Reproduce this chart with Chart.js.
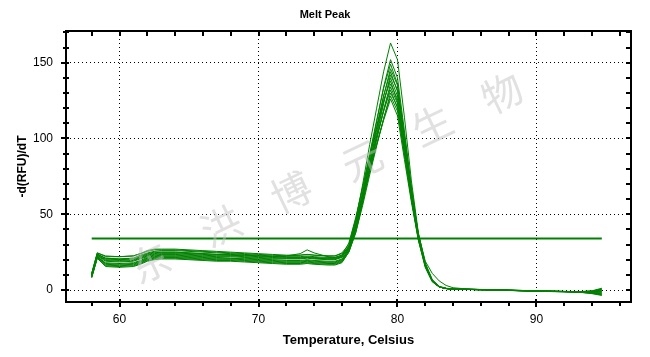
<!DOCTYPE html>
<html><head><meta charset="utf-8">
<script src="https://cdn.jsdelivr.net/npm/chart.js@4/dist/chart.umd.min.js"></script>
<style>html,body{margin:0;padding:0;background:#fff;}#wrap{width:650px;height:357px;}</style>
</head><body><div id="wrap"><canvas id="c" width="650" height="357"></canvas></div>
<script>
const temperature = [58, 58.4, 59, 60, 61, 61.5, 62, 62.5, 63, 64, 65, 66, 67, 68, 69, 70, 71, 72, 73, 73.5, 74, 75, 75.5, 76,
  76.5, 77, 77.5, 78, 78.5, 79, 79.5, 80, 80.5, 81, 81.5, 82, 82.5, 83, 83.5, 84,
  85, 86, 87, 88, 89, 90, 91, 92, 93, 94, 94.7];

const well01 = [10, 23.5, 21, 20.5, 21, 23, 24.5, 25.5, 26, 26, 25.5, 25, 24.5, 24, 23.5, 23, 22.5, 22, 22, 22.5, 22, 21.5, 21.5, 23,
  29, 46, 70, 96, 120, 144, 163, 152, 114, 72, 38, 17, 6, 2, 1, 0.6,
  0.4, 0.2, 0, -0.2, -0.4, -0.7, -0.9, -1, -1.2, -0.8, 0.8];
const well02 = [9, 22, 18, 17.5, 18, 19.5, 21.5, 22.5, 23, 23, 22.5, 22, 21.5, 21, 21, 20.5, 20, 19.5, 19.5, 20, 19.5, 19, 19, 20.5,
  27, 42, 64, 88, 111, 134, 152, 140, 105, 68, 36, 16, 6, 2, 1, 0.5,
  0.5, 0.3, 0.1, -0.1, -0.4, -0.6, -0.8, -1, -1.1, -1.9, -2.5];
const well03 = [11, 24.5, 22, 22, 22.5, 24, 25.5, 26.5, 26.5, 26.5, 26, 25.5, 25, 24.5, 24, 23.5, 23, 22.5, 23, 23.5, 23, 22.5, 22.5, 24.5,
  30, 47, 68, 90, 112, 133, 149, 136, 101, 65, 35, 16, 6, 2, 1, 0.5,
  0.6, 0.4, 0.2, 0, -0.3, -0.5, -0.7, -0.9, -1, -0.9, 0.3];
const well04 = [8.5, 21.5, 16.5, 16, 16.5, 18, 20, 21, 21.5, 21.5, 21, 20.5, 20, 20, 19.5, 19, 18.5, 18, 18, 18.5, 18, 17.5, 17.5, 19,
  26, 40, 61, 84, 106, 128, 146, 135, 102, 67, 37, 17, 6.5, 2.2, 1, 0.6,
  0.4, 0.2, 0, -0.3, -0.5, -0.8, -1, -1.1, -1.4, -2.2, -3.2];
const well05 = [10, 23, 20, 19.5, 20, 21.5, 23, 24, 24.5, 24.5, 24, 23.5, 23, 23, 22.5, 22, 21.5, 21, 21, 21.5, 21, 20.5, 20.5, 22,
  28, 44, 65, 87, 108, 128, 144, 131, 98, 64, 35, 16, 6, 2, 1, 0.5,
  0.5, 0.3, 0.1, -0.2, -0.4, -0.6, -0.8, -1, -1.2, -1.3, -0.6];
const well06 = [8, 21, 15.5, 15, 15.5, 17, 19, 20, 20.5, 20.5, 20, 19.5, 19, 19, 18.5, 18, 17.5, 17, 17, 17.5, 17, 16.5, 16.5, 18,
  25, 38, 58, 80, 102, 123, 142, 132, 100, 66, 37, 18, 7, 2.5, 1.2, 0.7,
  0.5, 0.2, 0, -0.2, -0.5, -0.7, -0.9, -1.1, -1.3, -2.4, -3.6];
const well07 = [9.5, 22.5, 19, 18.5, 19, 20.5, 22, 23, 23.5, 23.5, 23, 22.5, 22, 22, 21.5, 21, 20.5, 20.5, 20.5, 21, 20.5, 20, 20, 21.5,
  28, 43, 63, 84, 104, 124, 140, 128, 96, 63, 35, 16, 6, 2, 1, 0.5,
  0.4, 0.2, 0, -0.2, -0.4, -0.7, -0.9, -1, -1.3, -1.6, -1.8];
const well08 = [10.5, 23.5, 21, 20.5, 21, 22.5, 24, 25, 25, 25, 24.5, 24, 23.5, 23, 23, 22.5, 22, 22.5, 24, 26.5, 24.5, 22, 21.5, 23,
  31, 48, 68, 88, 107, 125, 138, 124, 92, 60, 33, 15, 5.5, 2, 1, 0.5,
  0.4, 0.2, 0, -0.2, -0.4, -0.6, -0.8, -1, -1.1, -0.5, 1.2];
const well09 = [9, 22, 17, 16.5, 17, 18.5, 20.5, 21.5, 22, 22, 21.5, 21, 20.5, 20.5, 20, 19.5, 19, 18.5, 18.5, 19, 18.5, 18, 18, 19.5,
  26, 39, 58, 79, 99, 119, 136, 126, 96, 64, 36, 17, 6.5, 2.2, 1, 0.5,
  0.4, 0.2, 0, -0.3, -0.5, -0.8, -1, -1.2, -1.4, -2, -2.8];
const well10 = [10, 23, 19.5, 19, 19.5, 21, 22.5, 23.5, 24, 24, 23.5, 23, 22.5, 22.5, 22, 21.5, 21, 21, 21, 21.5, 21, 20.5, 20.5, 22,
  27, 42, 61, 81, 100, 118, 134, 123, 93, 62, 35, 16, 6, 2, 1, 0.5,
  0.5, 0.3, 0.1, -0.1, -0.3, -0.6, -0.8, -0.9, -1.1, -1.2, -1];
const well11 = [10.5, 24, 20.5, 20, 20.5, 22, 23.5, 24.5, 25, 25, 24.5, 24, 23.5, 23.5, 23, 22.5, 22, 21.5, 21.5, 22, 21.5, 21, 21, 22.5,
  29, 45, 64, 83, 101, 118, 132, 120, 90, 60, 34, 16, 6, 2, 1, 0.5,
  0.4, 0.2, 0, -0.2, -0.4, -0.6, -0.8, -1, -1.2, -1, -0.2];
const well12 = [8.5, 21, 16, 15.5, 16, 17.5, 19.5, 20.5, 21, 21, 20.5, 20, 19.5, 19.5, 19, 18.5, 18, 17.5, 17.5, 18, 17.5, 17, 17, 18.5,
  25, 38, 56, 76, 95, 113, 130, 121, 93, 63, 37, 19, 11, 6, 3, 1.5,
  0.7, 0.3, 0, -0.2, -0.5, -0.7, -0.9, -1.1, -1.3, -1.8, -2.6];
const well13 = [9, 22, 17.5, 17, 17.5, 19, 21, 22, 22.5, 22.5, 22, 21.5, 21, 21, 20.5, 20, 19.5, 19, 19, 19.5, 19, 18.5, 18.5, 20,
  27, 41, 59, 78, 96, 113, 128, 118, 89, 60, 34, 16, 6, 2, 1, 0.5,
  0.4, 0.2, 0, -0.2, -0.5, -0.7, -0.9, -1, -1.3, -1.4, -1.4];
const well14 = [11, 24.5, 22.5, 22, 22.5, 24, 26, 27, 27, 27, 26.5, 26, 25.5, 25, 24.5, 24, 23.5, 23, 23, 23.5, 23, 22.5, 22.5, 24,
  28, 43, 61, 79, 96, 112, 126, 115, 86, 58, 33, 15, 5.5, 2, 1, 0.5,
  0.5, 0.3, 0.1, -0.1, -0.3, -0.6, -0.8, -1, -1.2, -0.7, 0.6];

const thresholdLevel = 34;
const thresholdRange = [58, 94.7];

const xTickValues = [58, 60, 62, 64, 66, 68, 70, 72, 74, 76, 78, 80, 82, 84, 86, 88, 90, 92, 94, 96];
const xLabelValues = [60, 70, 80, 90];
const yTickValues = [0, 10, 20, 30, 40, 50, 60, 70, 80, 90, 100, 110, 120, 130, 140, 150, 160, 170];
const yLabelValues = [0, 50, 100, 150];

const chartTitle = 'Melt Peak';
const xTitle = 'Temperature, Celsius';
const yTitle = '-d(RFU)/dT';
const watermarkChars = ['东', '洪', '博', '元', '生', '物'];

const wells = [well01, well02, well03, well04, well05, well06, well07, well08, well09, well10, well11, well12, well13, well14];
const GREEN = '#008000';

const datasets = wells.map(w => ({
  data: temperature.map((t, i) => ({x: t, y: w[i]})),
  borderColor: GREEN, borderWidth: 1, pointRadius: 0, tension: 0, fill: false
}));
datasets.push({
  data: thresholdRange.map(t => ({x: t, y: thresholdLevel})),
  borderColor: GREEN, borderWidth: 2, pointRadius: 0, tension: 0, fill: false
});

const watermark = {
  id: 'watermark',
  afterDatasetsDraw(chart) {
    const ctx = chart.ctx;
    const pos = [[150, 263], [221, 226], [291, 192], [362, 160], [432, 125], [502, 93]];
    ctx.save();
    ctx.font = '40px "Noto Sans CJK SC"';
    ctx.fillStyle = 'rgba(195,195,195,0.5)';
    ctx.textAlign = 'center';
    ctx.textBaseline = 'middle';
    watermarkChars.forEach((ch, i) => {
      ctx.save();
      ctx.translate(pos[i][0], pos[i][1]);
      ctx.rotate(-25.5 * Math.PI / 180);
      ctx.fillText(ch, 0, 0);
      ctx.restore();
    });
    ctx.restore();
  }
};

const frameTicks = {
  id: 'frameTicks',
  afterDraw(chart) {
    const {ctx, chartArea: a, scales: {x, y}} = chart;
    const L = Math.round(a.left), R = Math.round(a.right), T = Math.round(a.top), B = Math.round(a.bottom);
    ctx.save();
    ctx.strokeStyle = '#000';
    ctx.lineWidth = 2;
    ctx.beginPath();
    ctx.rect(L, T, R - L, B - T);
    ctx.stroke();
    ctx.beginPath();
    xTickValues.forEach(v => {
      const px = Math.round(x.getPixelForValue(v));
      const major = xLabelValues.includes(v);
      ctx.moveTo(px, B - (major ? 3 : 1)); ctx.lineTo(px, B + (major ? 5 : 4));
      ctx.moveTo(px, T); ctx.lineTo(px, T + 5);
    });
    yTickValues.forEach(v => {
      const py = Math.round(y.getPixelForValue(v));
      const major = yLabelValues.includes(v);
      ctx.moveTo(L - (major ? 5 : 3), py); ctx.lineTo(L + 3, py);
      ctx.moveTo(R - 5, py); ctx.lineTo(R, py);
    });
    ctx.stroke();
    ctx.restore();
  }
};

const FONT = 'Arial, "Liberation Sans", sans-serif';

new Chart(document.getElementById('c'), {
  type: 'line',
  data: {datasets},
  plugins: [watermark, frameTicks],
  options: {
    responsive: false, animation: false, devicePixelRatio: 1,
    layout: {padding: 0},
    plugins: {
      legend: {display: false},
      tooltip: {enabled: false},
      title: {display: true, text: chartTitle, color: '#000',
        font: {family: FONT, size: 11, weight: 'bold'}, padding: {top: 8, bottom: 9.8}}
    },
    scales: {
      x: {
        type: 'linear', min: 56.15, max: 96.8,
        afterBuildTicks: s => { s.ticks = xTickValues.map(v => ({value: v})); },
        afterFit: s => { s.height = 55; },
        grid: {drawTicks: false, color: c => (c.tick && xLabelValues.includes(c.tick.value)) ? '#000' : 'rgba(0,0,0,0)', lineWidth: 1},
        border: {display: false, dash: [1, 3]},
        ticks: {autoSkip: false, maxRotation: 0, padding: 10, color: '#000',
          font: {family: FONT, size: 12},
          callback: v => xLabelValues.includes(v) ? String(v) : ''},
        title: {display: true, text: xTitle, color: '#000',
          font: {family: FONT, size: 13, weight: 'bold'}, padding: {top: 0, bottom: 9}}
      },
      y: {
        type: 'linear', min: -7.9, max: 170.9,
        afterBuildTicks: s => { s.ticks = yTickValues.map(v => ({value: v})); },
        afterFit: s => { s.width = 66; },
        grid: {drawTicks: false, color: c => (c.tick && yLabelValues.includes(c.tick.value)) ? '#000' : 'rgba(0,0,0,0)', lineWidth: 1},
        border: {display: false, dash: [1, 3]},
        ticks: {autoSkip: false, padding: 13, color: '#000',
          font: {family: FONT, size: 12},
          callback: v => yLabelValues.includes(v) ? String(v) : ''},
        title: {display: true, text: yTitle, color: '#000',
          font: {family: FONT, size: 12, weight: 'bold'}, padding: {top: 15, bottom: 0}}
      },
      y2: {
        type: 'linear', position: 'right', display: true,
        grid: {display: false, drawTicks: false}, border: {display: false},
        ticks: {display: false},
        afterFit: s => { s.width = 19; }
      }
    }
  }
});
</script>
</body></html>
